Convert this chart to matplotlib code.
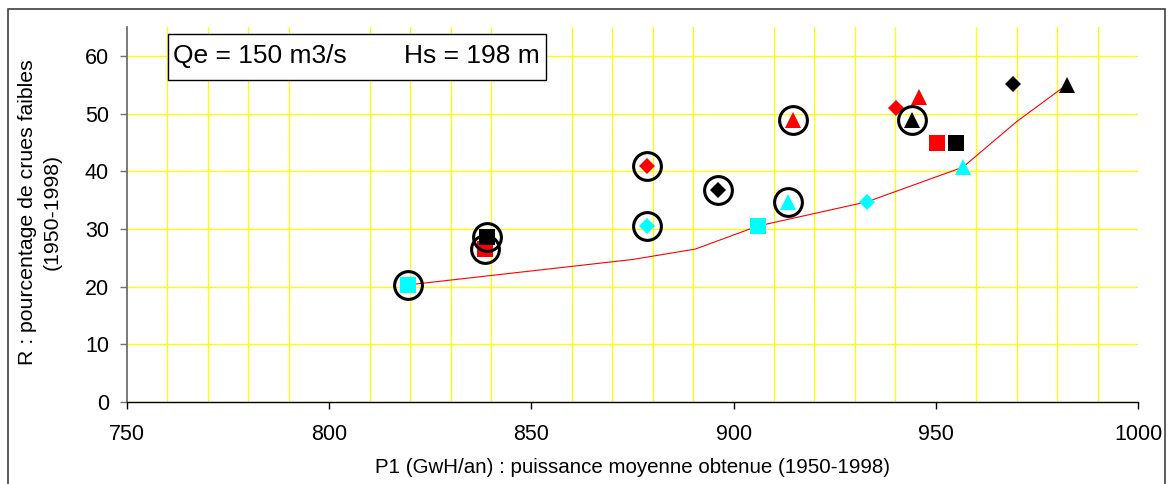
import matplotlib
matplotlib.use("Agg")
import matplotlib.pyplot as plt
from matplotlib.ticker import MultipleLocator
from matplotlib.patches import Rectangle

plt.rcParams["font.family"] = ["Liberation Sans", "DejaVu Sans"]

# P1 (GWh/an) and R (%) for each series; the first point of each is circled
cyan_sq_x = [819.5, 906.0]
cyan_sq_y = [20.3, 30.5]
cyan_dia_x = [878.6, 933.0]
cyan_dia_y = [30.5, 34.7]
cyan_tri_x = [913.5, 956.7]
cyan_tri_y = [34.7, 40.7]

red_sq_x = [838.5, 950.3]
red_sq_y = [26.5, 44.9]
red_dia_x = [878.6, 940.2]
red_dia_y = [40.9, 51.0]
red_tri_x = [914.7, 945.8]
red_tri_y = [48.9, 52.9]

black_sq_x = [839.0, 955.0]
black_sq_y = [28.6, 44.9]
black_dia_x = [896.1, 969.1]
black_dia_y = [36.8, 55.1]
black_tri_x = [944.1, 982.4]
black_tri_y = [48.9, 55.0]

# front line
front_x = [819.5, 875.0, 890.5, 906.0, 933.0, 956.7, 970.0, 982.4]
front_y = [20.3, 24.7, 26.5, 30.5, 34.7, 40.7, 48.6, 55.0]

W, H = 1168, 484
fig = plt.figure(figsize=(W / 100, H / 100), dpi=100)
ax = fig.add_axes([127 / W, 1 - 402 / H, (1138 - 127) / W, (402 - 27) / H])

ax.plot(front_x, front_y, color="red", lw=0.8, zorder=3)

series = [
    (cyan_sq_x, cyan_sq_y, "s", "#00FFFF", 11),
    (cyan_dia_x, cyan_dia_y, "D", "#00FFFF", 8.3),
    (cyan_tri_x, cyan_tri_y, "^", "#00FFFF", 12),
    (red_sq_x, red_sq_y, "s", "red", 11),
    (red_dia_x, red_dia_y, "D", "red", 8.3),
    (red_tri_x, red_tri_y, "^", "red", 12),
    (black_sq_x, black_sq_y, "s", "black", 11),
    (black_dia_x, black_dia_y, "D", "black", 8.3),
    (black_tri_x, black_tri_y, "^", "black", 12),
]
for xs, ys, m, c, ms in series:
    ax.plot(xs, ys, ls="none", marker=m, color=c, ms=ms, mew=0, zorder=4)
for xs, ys, m, c, ms in series:
    ax.plot(xs[0], ys[0], ls="none", marker="o", ms=20, mfc="none",
            mec="black", mew=2.2, zorder=5)

ax.set_xlim(750, 1000)
ax.set_ylim(0, 65)
ax.xaxis.set_major_locator(MultipleLocator(50))
ax.xaxis.set_minor_locator(MultipleLocator(10))
ax.yaxis.set_major_locator(MultipleLocator(10))
ax.grid(True, which="minor", axis="x", color="#FFFF00", lw=0.9)
ax.grid(True, which="major", axis="y", color="#FFFF00", lw=0.9)
ax.set_axisbelow(True)

for s in ["top", "right"]:
    ax.spines[s].set_visible(False)
ax.spines["left"].set_color("#707070")
ax.spines["left"].set_linewidth(1.3)
ax.spines["bottom"].set_color("black")
ax.spines["bottom"].set_linewidth(1.0)

ax.tick_params(axis="x", which="major", direction="out", length=5, width=1,
               labelsize=15.5, pad=11)
ax.tick_params(axis="x", which="minor", length=0)
ax.tick_params(axis="y", direction="out", length=5, width=1, color="#707070",
               labelsize=15.5, pad=8)

ax.set_xlabel("P1 (GwH/an) : puissance moyenne obtenue (1950-1998)",
              fontsize=14.8, labelpad=9)
fig.text(40 / W, 1 - 212 / H, "R : pourcentage de crues faibles\n(1950-1998)",
         rotation=90, ha="center", va="center", multialignment="center",
         fontsize=15.3, linespacing=1.35)

# text box with the run parameters
box = Rectangle((168 / W, 1 - 80 / H), (546 - 168) / W, 46 / H,
                transform=fig.transFigure, facecolor="white",
                edgecolor="black", lw=1.0, zorder=6)
fig.patches.append(box)
fig.text(173 / W, 1 - 56 / H, "Qe = 150 m3/s", fontsize=19,
         va="center", ha="left", zorder=7)
fig.text(540 / W, 1 - 56 / H, "Hs = 198 m", fontsize=19,
         va="center", ha="right", zorder=7)

# outer chart frame
frame = Rectangle((8 / W, -0.05), (1165 - 8) / W, 1.05 - 9 / H,
                  transform=fig.transFigure, facecolor="none",
                  edgecolor="#404040", lw=1.2)
fig.patches.append(frame)

fig.savefig("out.png", dpi=100, facecolor="white")
